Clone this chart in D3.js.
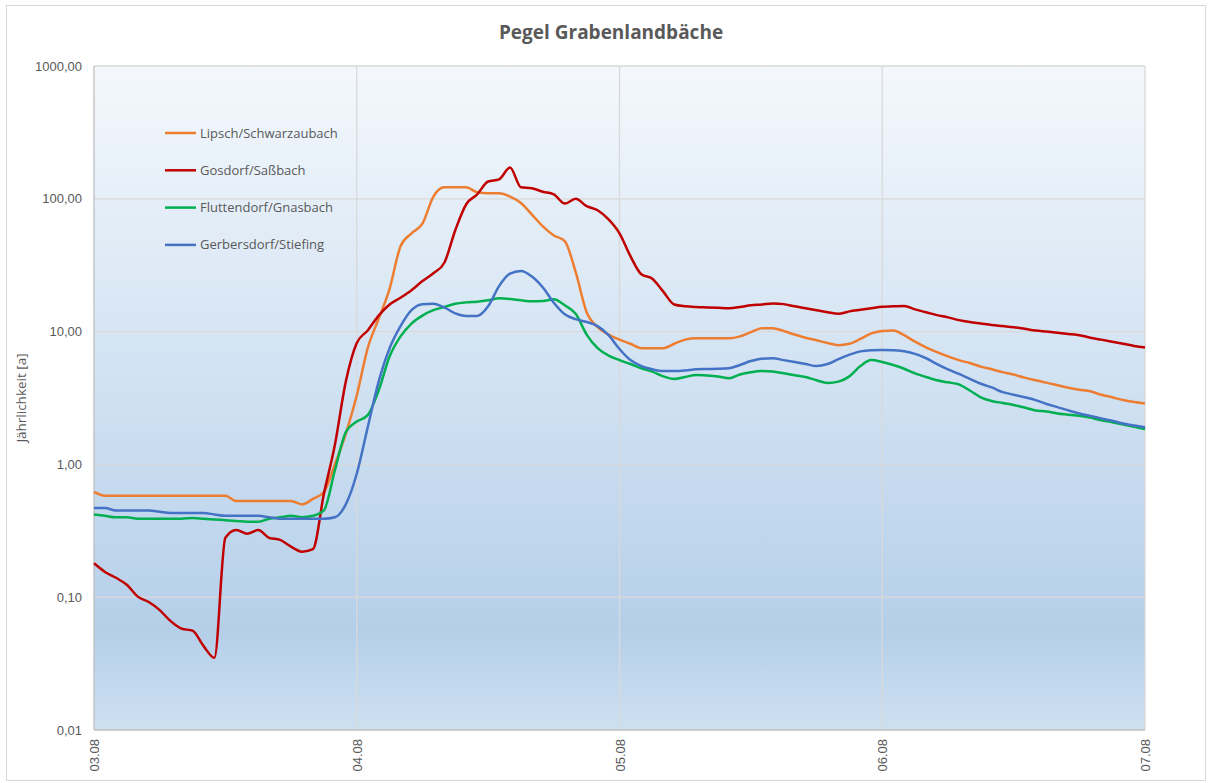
<!DOCTYPE html>
<html>
<head>
<meta charset="utf-8">
<script src="https://cdn.jsdelivr.net/npm/d3@7"></script>
<style>
  body { margin: 0; background: #fff; font-family: "Open Sans", "Liberation Sans", sans-serif; }
  .axis text { fill: #595959; font-size: 13px; }
  .axis path, .axis line { stroke: none; }
</style>
</head>
<body>
<div id="chart"></div>
<script>
// Stunden ab 03.08 00:00, stündlich
const hours = d3.range(0, 97);

const dayLabels = ['03.08', '04.08', '05.08', '06.08', '07.08'];
const yTicks = [0.01, 0.1, 1, 10, 100, 1000];

const seriesNames = ['Lipsch/Schwarzaubach', 'Gosdorf/Saßbach', 'Fluttendorf/Gnasbach', 'Gerbersdorf/Stiefing'];
const seriesColors = ['#ed7d31', '#c00000', '#00b050', '#4472c4'];

const lipsch = [
  0.62, 0.58, 0.58, 0.58, 0.58, 0.58, 0.58, 0.58, 0.58, 0.58, 0.58, 0.58, 0.58,
  0.53, 0.53, 0.53, 0.53, 0.53, 0.53, 0.50, 0.55, 0.62, 1.0, 1.7, 3.3,
  7.5, 12.5, 21, 44, 55, 65, 104, 122, 122, 122, 112, 110, 110, 104, 93, 76,
  62, 53, 48, 28, 14, 10.8, 9.5, 8.7,
  8.1, 7.5, 7.5, 7.5, 8.1, 8.7, 8.9, 8.9, 8.9, 8.9, 9.2, 9.9, 10.6, 10.6, 10.1,
  9.5, 9.0, 8.6, 8.2, 7.9, 8.1, 8.8, 9.7, 10.1,
  10.2, 9.4, 8.4, 7.6, 7.0, 6.5, 6.1, 5.8, 5.45, 5.2, 4.95, 4.75, 4.5, 4.3,
  4.13, 3.95, 3.78, 3.65, 3.55, 3.35, 3.2, 3.05, 2.95, 2.88
];

const gosdorf = [
  0.18, 0.155, 0.14, 0.124, 0.101, 0.092, 0.080, 0.066, 0.058, 0.056, 0.043, 0.035, 0.28,
  0.32, 0.30, 0.32, 0.28, 0.27, 0.24, 0.22, 0.23, 0.6, 1.4, 4.2, 8.2,
  10.2, 13.2, 16, 18, 20.5, 24, 27.5, 33, 58, 91, 108, 135, 140, 172, 122, 120,
  113, 108, 92, 100, 88, 82, 70, 55,
  37, 27, 25, 20, 16, 15.5, 15.3, 15.2, 15.1, 15, 15.3, 15.8, 16, 16.3, 16.1,
  15.5, 15, 14.5, 14, 13.6, 14.2, 14.6, 15, 15.4,
  15.5, 15.6, 14.7, 14, 13.3, 12.8, 12.2, 11.8, 11.5, 11.2, 11, 10.8, 10.5, 10.2,
  10.0, 9.8, 9.6, 9.4, 9.0, 8.7, 8.4, 8.1, 7.8, 7.6
];

const fluttendorf = [
  0.42, 0.41, 0.40, 0.40, 0.39, 0.39, 0.39, 0.39, 0.39, 0.395, 0.39, 0.385, 0.38,
  0.375, 0.37, 0.37, 0.39, 0.40, 0.41, 0.40, 0.41, 0.45, 0.9, 1.75, 2.1,
  2.35, 3.6, 6.5, 9.2, 11.5, 13.2, 14.5, 15.3, 16.2, 16.6, 16.8, 17.2, 17.8, 17.6, 17.2, 16.9,
  17.0, 17.5, 15.8, 13.6, 9.5, 7.5, 6.6, 6.1,
  5.7, 5.3, 5.0, 4.6, 4.4, 4.55, 4.72, 4.68, 4.6, 4.45, 4.75, 4.95, 5.05, 5.0, 4.85,
  4.7, 4.55, 4.3, 4.1, 4.2, 4.6, 5.5, 6.1, 5.9,
  5.6, 5.25, 4.85, 4.55, 4.3, 4.15, 4.0, 3.6, 3.2, 3.0, 2.9, 2.8, 2.68, 2.55,
  2.5, 2.42, 2.37, 2.32, 2.25, 2.15, 2.08, 2.0, 1.92, 1.84
];

const gerbersdorf = [
  0.47, 0.47, 0.45, 0.45, 0.45, 0.45, 0.44, 0.43, 0.43, 0.43, 0.43, 0.42, 0.41,
  0.41, 0.41, 0.41, 0.40, 0.39, 0.39, 0.39, 0.39, 0.39, 0.40, 0.50, 0.85,
  1.9, 4.2, 7.5, 11, 14.5, 16.1, 16.2, 15.2, 13.7, 13.1, 13.1, 15.5, 22, 27.3, 28.6, 26,
  21.5, 16.5, 13.5, 12.4, 11.8, 11.0, 9.4, 7.4,
  6.1, 5.5, 5.2, 5.05, 5.05, 5.1, 5.2, 5.23, 5.25, 5.3, 5.6, 6.0, 6.25, 6.3, 6.1,
  5.9, 5.7, 5.5, 5.7, 6.2, 6.7, 7.1, 7.25, 7.27,
  7.25, 7.1, 6.8, 6.3, 5.7, 5.2, 4.8, 4.4, 4.05, 3.8, 3.5, 3.35, 3.2, 3.05,
  2.85, 2.7, 2.55, 2.42, 2.32, 2.22, 2.13, 2.03, 1.96, 1.9
];

const seriesValues = [lipsch, gosdorf, fluttendorf, gerbersdorf];

const W = 1212, H = 783;
const margin = { top: 66, right: 67, bottom: 53, left: 94 };
const width = W - margin.left - margin.right;
const height = H - margin.top - margin.bottom;

const svg = d3.select('#chart')
  .append('svg')
  .attr('width', W)
  .attr('height', H);

// Rahmen um das Diagramm
svg.append('rect')
  .attr('x', 6.5).attr('y', 5.5)
  .attr('width', 1199).attr('height', 775)
  .attr('fill', '#fff')
  .attr('stroke', '#d9d9d9');

const defs = svg.append('defs');
const grad = defs.append('linearGradient')
  .attr('id', 'bg')
  .attr('x1', 0).attr('y1', 0).attr('x2', 0).attr('y2', 1);
grad.append('stop').attr('offset', '0%').attr('stop-color', '#f4f8fc');
grad.append('stop').attr('offset', '45%').attr('stop-color', '#d3e3f3');
grad.append('stop').attr('offset', '85%').attr('stop-color', '#b5cfe9');
grad.append('stop').attr('offset', '100%').attr('stop-color', '#cde0f1');

const g = svg.append('g')
  .attr('transform', `translate(${margin.left}, ${margin.top})`);

const xScale = d3.scaleLinear()
  .domain([0, 96])
  .range([0, width]);

const yScale = d3.scaleLog()
  .domain([0.01, 1000])
  .range([height, 0]);

g.append('rect')
  .attr('width', width)
  .attr('height', height)
  .attr('fill', 'url(#bg)');

// Gitterlinien
g.selectAll('.hgrid')
  .data(yTicks.slice(1))
  .enter()
  .append('line')
  .attr('x1', 0).attr('x2', width)
  .attr('y1', d => yScale(d)).attr('y2', d => yScale(d))
  .attr('stroke', '#d9d9d9')
  .attr('stroke-width', 1.3);

g.selectAll('.vgrid')
  .data(dayLabels.slice(1))
  .enter()
  .append('line')
  .attr('x1', (d, i) => xScale((i + 1) * 24)).attr('x2', (d, i) => xScale((i + 1) * 24))
  .attr('y1', 0).attr('y2', height)
  .attr('stroke', '#d9d9d9')
  .attr('stroke-width', 1.3);

// Achsenlinien
g.append('line')
  .attr('x1', 0).attr('x2', 0).attr('y1', 0).attr('y2', height)
  .attr('stroke', '#bfbfbf').attr('stroke-width', 1.3);
g.append('line')
  .attr('x1', 0).attr('x2', width).attr('y1', height).attr('y2', height)
  .attr('stroke', '#bfbfbf').attr('stroke-width', 1.3);

const fmt = d => d3.format('.2f')(d).replace('.', ',');

const yAxis = d3.axisLeft(yScale)
  .tickValues(yTicks)
  .tickFormat(fmt)
  .tickSize(0)
  .tickPadding(12);

g.append('g')
  .attr('class', 'axis')
  .call(yAxis);

const xAxis = d3.axisBottom(xScale)
  .tickValues([0, 24, 48, 72, 96])
  .tickFormat((d, i) => dayLabels[i])
  .tickSize(0);

g.append('g')
  .attr('class', 'axis')
  .attr('transform', `translate(0, ${height})`)
  .call(xAxis)
  .selectAll('text')
  .attr('transform', 'rotate(-90)')
  .attr('text-anchor', 'end')
  .attr('x', -9)
  .attr('y', 0)
  .attr('dy', '0.35em');

// Linien
const line = d3.line()
  .x((d, i) => xScale(hours[i]))
  .y(d => yScale(d))
  .curve(d3.curveMonotoneX);

g.selectAll('.series')
  .data(seriesValues)
  .enter()
  .append('path')
  .attr('class', 'series')
  .attr('d', d => line(d))
  .attr('fill', 'none')
  .attr('stroke', (d, i) => seriesColors[i])
  .attr('stroke-width', 2.5)
  .attr('stroke-linejoin', 'round');

// Legende
const legend = g.selectAll('.legend')
  .data(seriesNames)
  .enter()
  .append('g')
  .attr('class', 'legend')
  .attr('transform', (d, i) => `translate(71, ${67 + i * 37.3})`);

legend.append('line')
  .attr('x1', 0).attr('x2', 31)
  .attr('stroke', (d, i) => seriesColors[i])
  .attr('stroke-width', 2.5);

legend.append('text')
  .attr('x', 35)
  .attr('dy', '0.35em')
  .attr('fill', '#595959')
  .style('font-size', '13px')
  .text(d => d);

// Titel
svg.append('text')
  .attr('x', 611)
  .attr('y', 39)
  .attr('text-anchor', 'middle')
  .attr('fill', '#595959')
  .style('font-size', '19px')
  .style('font-weight', 'bold')
  .text('Pegel Grabenlandbäche');

svg.append('text')
  .attr('transform', 'rotate(-90)')
  .attr('x', -398)
  .attr('y', 21)
  .attr('dy', '0.35em')
  .attr('text-anchor', 'middle')
  .attr('fill', '#595959')
  .style('font-size', '13.5px')
  .text('Jährlichkeit [a]');
</script>
</body>
</html>
